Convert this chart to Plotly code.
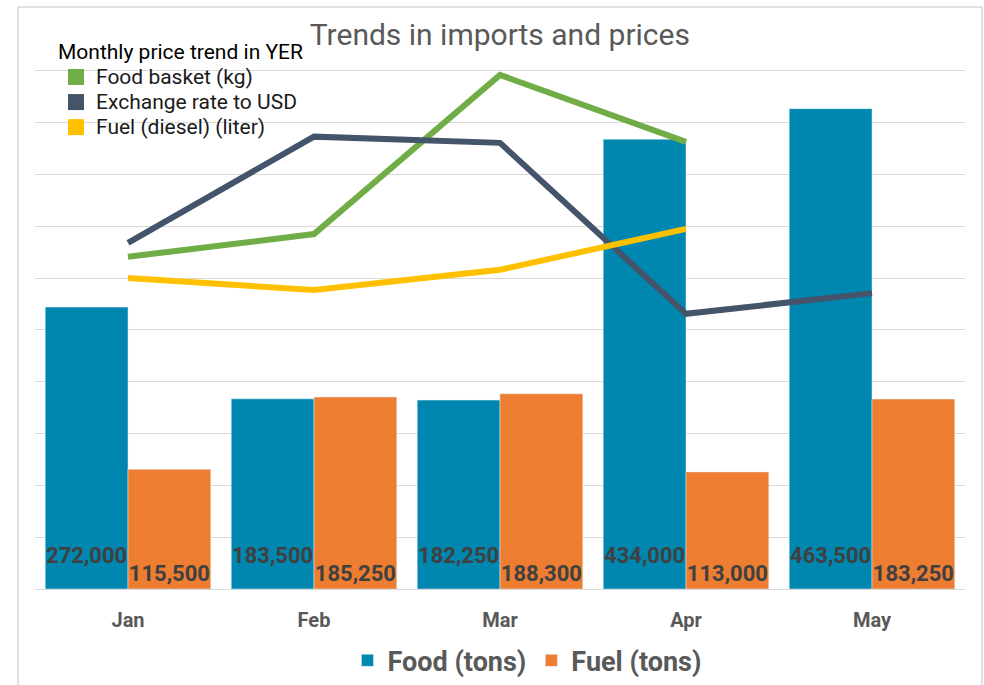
import plotly.graph_objects as go

months = ["Jan", "Feb", "Mar", "Apr", "May"]
food_tons = [272000, 183500, 182250, 434000, 463500]
fuel_tons = [115500, 185250, 188300, 113000, 183250]

# Monthly price trends in YER (secondary, hidden axis) - estimated
food_basket = [641, 685, 992, 863, None]
exchange_rate = [668, 873, 861, 531, 571]
fuel_diesel = [600, 577, 616, 695, None]

C_FOOD = "#0087B0"
C_FUEL = "#ED7D31"
C_BASKET = "#70AD47"
C_EXCH = "#44546A"
C_DIESEL = "#FFC000"
FONT = "Roboto"

fig = go.Figure()

fig.add_trace(go.Bar(
    x=months, y=food_tons, name="Food (tons)", marker_color=C_FOOD,
    text=[f"<span style='font-size:22px'>{v:,}</span><br> " for v in food_tons],
    textposition="inside", insidetextanchor="start", textangle=0,
    constraintext="none",
    textfont=dict(family=FONT, size=15, color="#404040", weight="bold"),
    legend="legend2",
))
fig.add_trace(go.Bar(
    x=months, y=fuel_tons, name="Fuel (tons)", marker_color=C_FUEL,
    text=[f"{v:,}" for v in fuel_tons], textposition="inside",
    insidetextanchor="start", textangle=0, constraintext="none",
    textfont=dict(family=FONT, size=22, color="#404040", weight="bold"),
    legend="legend2",
))

for name, vals, col in [("Food basket (kg)", food_basket, C_BASKET),
                        ("Exchange rate to USD", exchange_rate, C_EXCH),
                        ("Fuel (diesel) (liter)", fuel_diesel, C_DIESEL)]:
    fig.add_trace(go.Scatter(
        x=months, y=vals, mode="lines", yaxis="y2", showlegend=False,
        line=dict(color=col, width=6), name=name,
    ))
    fig.add_trace(go.Scatter(
        x=[None], y=[None], mode="markers", yaxis="y2",
        name=f"<span style='font-size:21px'>{name}</span>",
        marker=dict(symbol="square", size=16, color=col), legend="legend",
    ))

fig.update_layout(
    width=984, height=685,
    paper_bgcolor="white", plot_bgcolor="white",
    margin=dict(l=35, r=19, t=19, b=96, autoexpand=False),
    font=dict(family=FONT, color="#595959"),
    title=dict(text="Trends in imports and prices", x=0.508, xanchor="center",
               y=0.949, yanchor="middle",
               font=dict(family=FONT, size=30, color="#595959")),
    barmode="group", bargap=0.11, bargroupgap=0,
    xaxis=dict(showgrid=False, showline=False, ticks="", ticklabelstandoff=17,
               tickfont=dict(family=FONT, size=20, color="#595959", weight="bold")),
    yaxis=dict(range=[0, 550000], dtick=50000, showticklabels=False,
               gridcolor="#D9D9D9", gridwidth=1, zeroline=True,
               zerolinecolor="#D9D9D9", zerolinewidth=1),
    yaxis2=dict(overlaying="y", range=[0, 1100], visible=False),
    legend=dict(x=21/930, y=0.977, xanchor="left", yanchor="top",
                bgcolor="rgba(0,0,0,0)", tracegroupgap=0, itemwidth=30,
                title=dict(text="Monthly price trend in YER",
                           font=dict(family=FONT, size=21, color="#000000")),
                font=dict(family=FONT, size=17, color="#1a1a1a"),
                itemsizing="trace"),
    legend2=dict(orientation="h", x=0.529, y=-0.126, xanchor="center",
                 yanchor="middle", bgcolor="rgba(0,0,0,0)",
                 font=dict(family=FONT, size=27, color="#595959", weight="bold")),
    shapes=[dict(type="rect", xref="paper", yref="paper",
                 x0=-17/930, x1=947/930, y0=-0.25, y1=582/570,
                 line=dict(color="#D9D9D9", width=1.5), layer="below")],
)

fig.write_html("out.html", config={"displayModeBar": False},
               post_script="document.body.style.margin='0';")
